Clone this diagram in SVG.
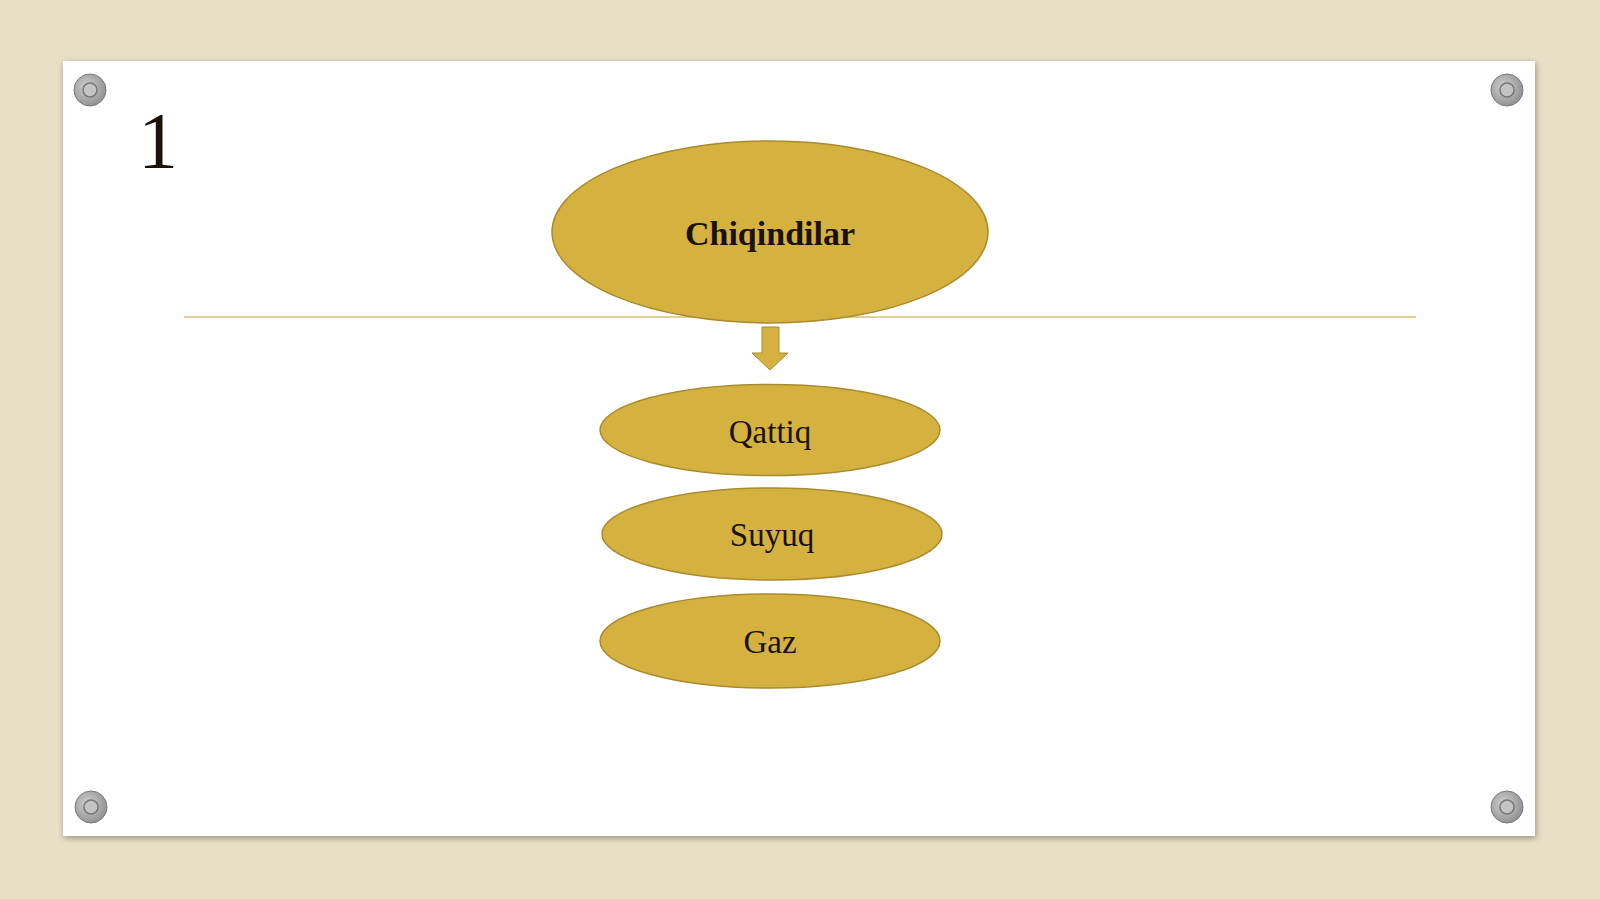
<svg xmlns="http://www.w3.org/2000/svg" width="1600" height="899" viewBox="0 0 1600 899">
<defs>
<filter id="shadow" x="-5%" y="-5%" width="110%" height="110%"><feGaussianBlur in="SourceAlpha" stdDeviation="3"/><feOffset dx="1" dy="2"/><feComponentTransfer><feFuncA type="linear" slope="0.35"/></feComponentTransfer><feMerge><feMergeNode/><feMergeNode in="SourceGraphic"/></feMerge></filter>
<radialGradient id="screw" cx="0.4" cy="0.4" r="0.7"><stop offset="0" stop-color="#d0d0d0"/><stop offset="1" stop-color="#8a8a8a"/></radialGradient>
</defs>
<style>
.node{fill:#D5B140;stroke:#A88B2C;stroke-width:1.5}
.lbl{font-family:"Liberation Serif","DejaVu Serif",serif;fill:#1a1208;text-anchor:middle}
.screw{fill:url(#screw);stroke:#7a7a7a;stroke-width:1}
.hole{fill:#c4c4c4;stroke:#777;stroke-width:1.5}
</style>
<rect width="1600" height="899" fill="#E9DEC6"/>
<rect x="63" y="61" width="1472" height="775" fill="#FFFFFF" filter="url(#shadow)"/>
<g id="screws">
<circle class="screw" cx="90" cy="90" r="16"/><circle class="hole" cx="90" cy="90" r="7"/>
<circle class="screw" cx="1507" cy="90" r="16"/><circle class="hole" cx="1507" cy="90" r="7"/>
<circle class="screw" cx="91" cy="807" r="16"/><circle class="hole" cx="91" cy="807" r="7"/>
<circle class="screw" cx="1507" cy="807" r="16"/><circle class="hole" cx="1507" cy="807" r="7"/>
</g>
<text x="158" y="168" class="lbl" font-size="80">1</text>
<line x1="184" y1="317" x2="1416" y2="317" stroke="#E2CF98" stroke-width="2"/>
<g id="n-chiqindilar">
<ellipse class="node" cx="770" cy="232" rx="218" ry="91"/>
<text x="770" y="245" class="lbl" font-size="34" font-weight="bold">Chiqindilar</text>
</g>
<g id="connectors">
<path d="M762,327 H779 V353 H788 L770,370 L752,353 H762 Z" fill="#D5B140" stroke="#A88B2C" stroke-width="1"/>
</g>
<g id="n-qattiq">
<ellipse class="node" cx="770" cy="430" rx="170" ry="45.5"/>
<text x="770" y="443" class="lbl" font-size="33">Qattiq</text>
</g>
<g id="n-suyuq">
<ellipse class="node" cx="772" cy="534" rx="170" ry="46"/>
<text x="772" y="546" class="lbl" font-size="33">Suyuq</text>
</g>
<g id="n-gaz">
<ellipse class="node" cx="770" cy="641" rx="170" ry="47"/>
<text x="770" y="653" class="lbl" font-size="33">Gaz</text>
</g>
</svg>
